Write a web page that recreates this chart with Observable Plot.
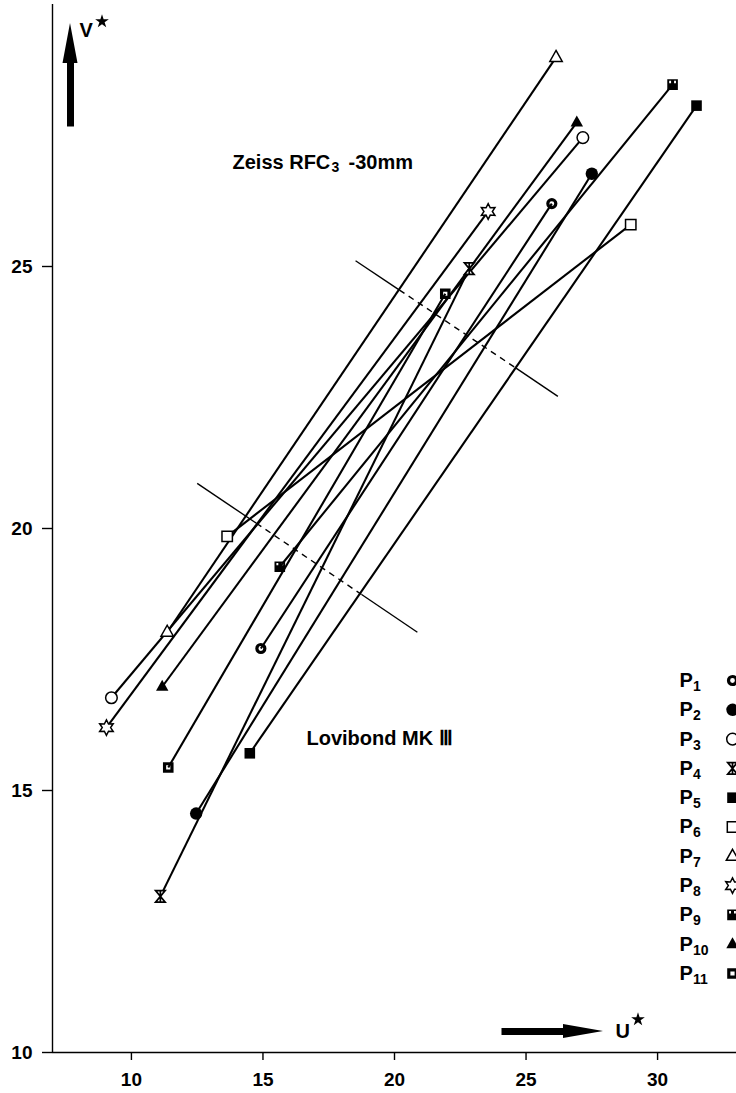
<!DOCTYPE html>
<html><head><meta charset="utf-8">
<script src="https://cdn.jsdelivr.net/npm/d3@7"></script>
<script src="https://cdn.jsdelivr.net/npm/@observablehq/plot@0.6"></script>
<style>
html,body{margin:0;padding:0;background:#fff;}
#chart svg{display:block;}
</style></head><body><div id="chart"></div>
<script>
// ---- data ----
const products   = ["P1","P2","P3","P4","P5","P6","P7","P8","P9","P10","P11"];
const subscripts = ["1","2","3","4","5","6","7","8","9","10","11"];
// Lovibond MK III (lower end) and Zeiss RFC3 -30mm (upper end), U* / V*
const lovibondU = [14.92,12.46, 9.24,11.10,14.50,13.64,11.36, 9.05,15.64,11.17,11.40];
const lovibondV = [17.71,14.56,16.77,12.98,15.71,19.85,18.02,16.20,19.27,16.98,15.44];
const zeissU    = [25.98,27.50,27.16,22.84,31.48,28.98,26.14,23.56,30.57,26.93,21.93];
const zeissV    = [26.20,26.77,27.46,24.96,28.07,25.80,28.99,26.05,28.47,27.75,24.48];
const xTicks = [10,15,20,25,30];
const yTicks = [10,15,20,25];
// cross lines separating the two instruments: [u1,v1,u2,v2] pieces (solid, dashed, solid)
const lowerCross = [[12.50,20.86,14.75,20.10],[14.75,20.10,18.75,18.74],[18.75,18.74,20.87,18.02]];
const upperCross = [[18.52,25.11,20.19,24.55],[20.19,24.55,24.62,23.06],[24.62,23.06,26.21,22.52]];

// ---- symbols ----
const TAU = Math.PI*2;
function rectCW(c,x0,y0,x1,y1){c.moveTo(x0,y0);c.lineTo(x1,y0);c.lineTo(x1,y1);c.lineTo(x0,y1);c.closePath();}
function rectCCW(c,x0,y0,x1,y1){c.moveTo(x0,y0);c.lineTo(x0,y1);c.lineTo(x1,y1);c.lineTo(x1,y0);c.closePath();}
const S = {
  ring:   {draw(c){c.moveTo(5.6,0);c.arc(0,0,5.6,0,TAU);c.closePath();c.moveTo(2.4,0);c.arc(0,0,2.4,0,TAU,true);c.closePath();}},
  disc:   {draw(c){c.moveTo(6.2,0);c.arc(0,0,6.2,0,TAU);c.closePath();}},
  circle: {draw(c){c.moveTo(5.8,0);c.arc(0,0,5.8,0,TAU);c.closePath();}},
  hour:   {draw(c){c.moveTo(-4.8,-5.8);c.lineTo(4.8,-5.8);c.lineTo(-4.8,5.8);c.lineTo(4.8,5.8);c.closePath();c.moveTo(0,-5.8);c.lineTo(0,5.8);}},
  fsq:    {draw(c){rectCW(c,-5.3,-5.3,5.3,5.3);}},
  osq:    {draw(c){rectCW(c,-5.2,-5.2,5.2,5.2);}},
  otri:   {draw(c){c.moveTo(0,-7);c.lineTo(6.2,4);c.lineTo(-6.2,4);c.closePath();}},
  star:   {draw(c){for(let k=0;k<12;k++){const a=-Math.PI/2+k*Math.PI/6;const r=k%2?4.2:7.8;const x=r*Math.cos(a),y=r*Math.sin(a);k?c.lineTo(x,y):c.moveTo(x,y);}c.closePath();}},
  notch:  {draw(c){rectCW(c,-5.3,-5.3,5.3,5.3);rectCCW(c,-3.4,-3.8,-1.5,-1.4);rectCCW(c,1.5,-3.8,3.4,-1.4);}},
  ftri:   {draw(c){c.moveTo(0,-7);c.lineTo(6.2,4);c.lineTo(-6.2,4);c.closePath();}},
  sqdot:  {draw(c){rectCW(c,-5.3,-5.3,5.3,5.3);rectCCW(c,-2.1,-2.1,2.1,2.1);}}
};
const symbolOf = ["ring","disc","circle","hour","fsq","osq","otri","star","notch","ftri","sqdot"];
const filled = {ring:true,disc:true,fsq:true,notch:true,ftri:true,sqdot:true};

// ---- scale helpers (px per data unit, for annotation offsets) ----
const W = 736, H = 1093, mL = 52, mR = 0, mT = 4, mB = 41;
const X0 = 7, X1 = 33, Y0 = 10, Y1 = 30;
const kx = (W-mL-mR)/(X1-X0), ky = (H-mT-mB)/(Y1-Y0);
const px2x = p => X0 + (p-mL)/kx;
const px2y = p => Y0 + (H-mB-p)/ky;

const segs = products.map((p,i)=>({p, x1:lovibondU[i], y1:lovibondV[i], x2:zeissU[i], y2:zeissV[i]}));
const FONT = "'Liberation Sans', Arial, Helvetica, sans-serif";

const marks = [];
// axes lines
marks.push(Plot.ruleX([X0], {y1:Y0, y2:Y1, stroke:"black", strokeWidth:1.4}));
marks.push(Plot.ruleY([Y0], {x1:X0, x2:X1, stroke:"black", strokeWidth:1.4}));
marks.push(Plot.axisX({ticks:xTicks, tickSize:8, tickPadding:12, fontSize:19, fontWeight:"bold", label:null, strokeWidth:1.4}));
marks.push(Plot.axisY({ticks:yTicks, tickSize:10, tickPadding:10, fontSize:19, fontWeight:"bold", label:null, strokeWidth:1.4}));

// cross lines
[lowerCross, upperCross].forEach(parts=>{
  parts.forEach((s,j)=>{
    marks.push(Plot.link([s], {x1:d=>d[0], y1:d=>d[1], x2:d=>d[2], y2:d=>d[3], stroke:"black", strokeWidth:1.4,
      strokeDasharray: j===1 ? "6,5" : null}));
  });
});

// product lines
marks.push(Plot.link(segs, {x1:"x1", y1:"y1", x2:"x2", y2:"y2", stroke:"black", strokeWidth:2.1}));

// markers (both ends) and legend
const legTop = 680, legStep = 29.3;
products.forEach((p,i)=>{
  const sName = symbolOf[i], f = filled[sName];
  const pts = [{x:lovibondU[i], y:lovibondV[i]}, {x:zeissU[i], y:zeissV[i]}, {x:px2x(732), y:px2y(legTop+legStep*i)}];
  marks.push(Plot.dot(pts, {x:"x", y:"y", symbol:S[sName], r:4,
    fill: f ? "black" : "white", stroke: f ? "none" : "black", strokeWidth: sName==="hour"?1.7:1.5}));
  marks.push(Plot.text([p], {x:px2x(679), y:px2y(legTop+legStep*i), text:()=> "P", textAnchor:"start",
    fontSize:20, fontWeight:"bold", fontFamily:FONT}));
  marks.push(Plot.text([p], {x:px2x(679), y:px2y(legTop+legStep*i), text:()=> subscripts[i], textAnchor:"start",
    dx:13.5, dy:6, fontSize:14, fontWeight:"bold", fontFamily:FONT}));
});

// instrument labels
const zx = px2x(232), zy = px2y(161.6);
marks.push(Plot.text(["Zeiss RFC"], {x:zx, y:zy, text:d=>d, textAnchor:"start", fontSize:20, fontWeight:"bold", fontFamily:FONT}));
marks.push(Plot.text(["3"], {x:zx, y:zy, text:d=>d, textAnchor:"start", dx:99, dy:5, fontSize:14, fontWeight:"bold", fontFamily:FONT}));
marks.push(Plot.text(["-30mm"], {x:zx, y:zy, text:d=>d, textAnchor:"start", dx:116, fontSize:20, fontWeight:"bold", fontFamily:FONT}));
marks.push(Plot.text(["Lovibond MK \u2162"], {x:px2x(306), y:px2y(737.6), text:d=>d, textAnchor:"start", fontSize:20, fontWeight:"bold", fontFamily:FONT}));

// axis arrows V* and U*
const vx = px2x(70);
marks.push(Plot.link([0], {x1:vx, x2:vx, y1:px2y(126), y2:px2y(60), stroke:"black", strokeWidth:7}));
marks.push(Plot.areaX([{y:px2y(63), a:vx-7.5/kx, b:vx+7.5/kx},{y:px2y(23), a:vx, b:vx}], {y:"y", x1:"a", x2:"b", fill:"black"}));
marks.push(Plot.text(["V"], {x:px2x(79), y:px2y(30.4), text:d=>d, textAnchor:"start", fontSize:20, fontWeight:"bold", fontFamily:FONT}));
marks.push(Plot.dot([0], {x:px2x(101.5), y:px2y(21), symbol:"star", r:4.3, fill:"black"}));

const uy = px2y(1031);
marks.push(Plot.link([0], {x1:px2x(501), x2:px2x(566), y1:uy, y2:uy, stroke:"black", strokeWidth:7}));
marks.push(Plot.areaY([{x:px2x(563), a:uy-7/ky, b:uy+7/ky},{x:px2x(603), a:uy, b:uy}], {x:"x", y1:"a", y2:"b", fill:"black"}));
marks.push(Plot.text(["U"], {x:px2x(615), y:px2y(1031.4), text:d=>d, textAnchor:"start", fontSize:20, fontWeight:"bold", fontFamily:FONT}));
marks.push(Plot.dot([0], {x:px2x(637.5), y:px2y(1019), symbol:"star", r:4.3, fill:"black"}));

const chart = Plot.plot({
  width:W, height:H, marginLeft:mL, marginRight:mR, marginTop:mT, marginBottom:mB,
  x:{domain:[X0,X1]}, y:{domain:[Y0,Y1]},
  style:{fontFamily:FONT, fontSize:"18px", background:"white", color:"black", overflow:"visible"},
  marks
});
document.getElementById("chart").appendChild(chart);
</script>
</body></html>
